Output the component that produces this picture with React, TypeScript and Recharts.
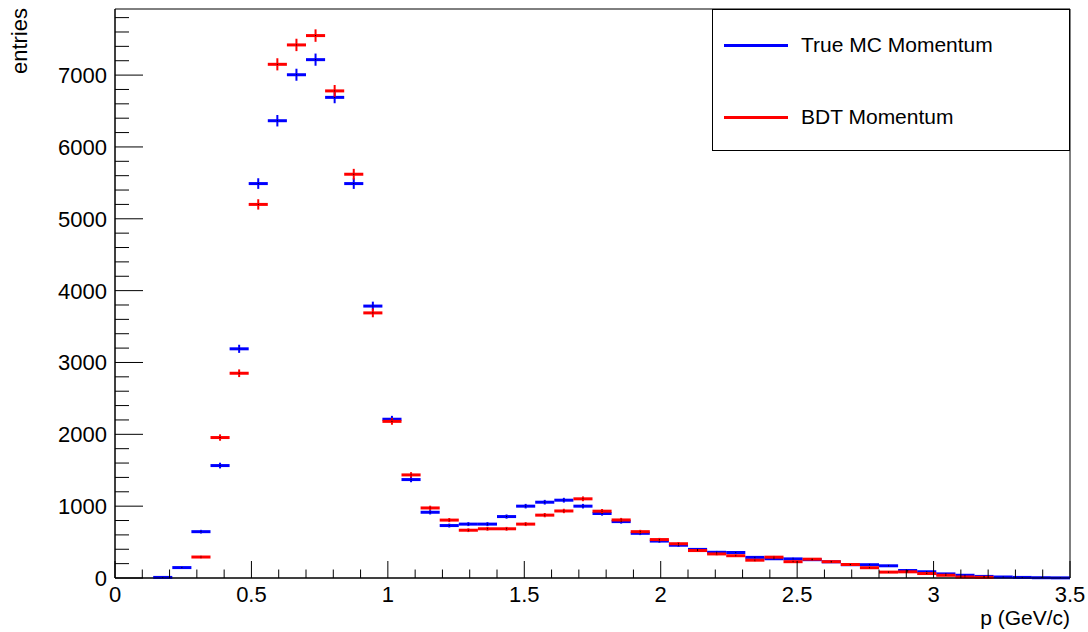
import React from 'react';
import { ScatterChart, Scatter, XAxis, YAxis, ErrorBar, ReferenceArea, Legend, Label } from 'recharts';

// Bin centres (GeV/c), bin width 0.07
const binCenters = [
  0.175, 0.245, 0.315, 0.385, 0.455, 0.525, 0.595, 0.665, 0.735, 0.805,
  0.875, 0.945, 1.015, 1.085, 1.155, 1.225, 1.295, 1.365, 1.435, 1.505,
  1.575, 1.645, 1.715, 1.785, 1.855, 1.925, 1.995, 2.065, 2.135, 2.205,
  2.275, 2.345, 2.415, 2.485, 2.555, 2.625, 2.695, 2.765, 2.835, 2.905,
  2.975, 3.045, 3.115, 3.185, 3.255, 3.325, 3.395, 3.465,
];
const binHalfWidth = 0.035;

const trueMC: (number | null)[] = [
  8, 145, 645, 1565, 3190, 5490, 6365, 7005, 7215, 6690,
  5490, 3785, 2210, 1370, 915, 730, 750, 750, 855, 1000,
  1055, 1083, 1000, 898, 785, 622, 514, 456, 398, 358,
  355, 287, 268, 266, 255, 225, 185, 185, 170, 104,
  87, 57, 38, 22, 14, 8, 4, 2,
];
const bdt: (number | null)[] = [
  null, null, 292, 1955, 2850, 5200, 7150, 7420, 7550, 6780,
  5620, 3690, 2180, 1435, 975, 806, 665, 685, 685, 750,
  875, 933, 1102, 930, 808, 645, 535, 477, 382, 335,
  310, 248, 290, 227, 262, 227, 188, 143, 82, 86,
  62, 38, 14, 9, null, null, null, null,
];

const seriesNames = ['True MC Momentum', 'BDT Momentum'];
const seriesColors = ['#0000ff', '#ff0000'];

const xTicks = [
  0, 0.1, 0.2, 0.3, 0.4, 0.5, 0.6, 0.7, 0.8, 0.9, 1, 1.1, 1.2, 1.3, 1.4, 1.5,
  1.6, 1.7, 1.8, 1.9, 2, 2.1, 2.2, 2.3, 2.4, 2.5, 2.6, 2.7, 2.8, 2.9, 3, 3.1,
  3.2, 3.3, 3.4, 3.5,
];
const xLabelTicks = [0, 0.5, 1, 1.5, 2, 2.5, 3, 3.5];
const yTicks = [
  0, 200, 400, 600, 800, 1000, 1200, 1400, 1600, 1800, 2000, 2200, 2400, 2600,
  2800, 3000, 3200, 3400, 3600, 3800, 4000, 4200, 4400, 4600, 4800, 5000, 5200,
  5400, 5600, 5800, 6000, 6200, 6400, 6600, 6800, 7000, 7200, 7400, 7600, 7800,
];
const yLabelTicks = [0, 1000, 2000, 3000, 4000, 5000, 6000, 7000];
const yMax = 7920;
const xMax = 3.5;

const FONT = '"Liberation Sans", Arial, Helvetica, sans-serif';

function toPoints(values: (number | null)[]) {
  const pts: { x: number; y: number; ex: number; ey: number }[] = [];
  values.forEach((v, i) => {
    if (v == null) return;
    pts.push({ x: binCenters[i], y: v, ex: binHalfWidth, ey: Math.sqrt(v) });
  });
  return pts;
}

const trueData = toPoints(trueMC);
const bdtData = toPoints(bdt);

const isMajor = (v: number, majors: number[]) => majors.some((m) => Math.abs(m - v) < 1e-6);

const XTick = (props: any) => {
  const { x, y, payload } = props;
  const v = payload.value as number;
  const major = isMajor(v, xLabelTicks);
  return (
    <g>
      <line x1={x} x2={x} y1={y} y2={y - (major ? 17 : 8.5)} stroke="#000" strokeWidth={1} />
      {major && (
        <text x={x} y={y + 24} textAnchor="middle" fontSize={22} fontFamily={FONT} fill="#000">
          {String(v)}
        </text>
      )}
    </g>
  );
};

const YTick = (props: any) => {
  const { x, y, payload } = props;
  const v = payload.value as number;
  const major = isMajor(v, yLabelTicks);
  return (
    <g>
      <line x1={x} x2={x + (major ? 28 : 14)} y1={y} y2={y} stroke="#000" strokeWidth={1} />
      {major && (
        <text x={x - 8} y={y + 8} textAnchor="end" fontSize={22} fontFamily={FONT} fill="#000">
          {String(v)}
        </text>
      )}
    </g>
  );
};

const XTitle = (props: any) => {
  const vb = props.viewBox || { x: 115, y: 578, width: 955, height: 54 };
  return (
    <text x={vb.x + vb.width} y={vb.y + 47} textAnchor="end" fontSize={21} fontFamily={FONT} fill="#000">
      p (GeV/c)
    </text>
  );
};

const YTitle = (props: any) => {
  const vb = props.viewBox || { x: 0, y: 9, width: 115, height: 569 };
  const tx = vb.x + 27;
  const ty = vb.y - 1;
  return (
    <text
      x={tx}
      y={ty}
      textAnchor="end"
      fontSize={22}
      fontFamily={FONT}
      fill="#000"
      transform={`rotate(-90, ${tx}, ${ty})`}
    >
      entries
    </text>
  );
};

const LegendBox = (props: any) => {
  const payload = ((props.payload || []) as any[]).slice().sort(
    (a: any, b: any) => seriesNames.indexOf(a.value) - seriesNames.indexOf(b.value)
  );
  return (
    <div
      style={{
        width: 358,
        height: 142,
        border: '1px solid #000',
        boxSizing: 'border-box',
        background: '#fff',
        position: 'relative',
        fontFamily: FONT,
        fontSize: 21,
        color: '#000',
      }}
    >
      {payload.map((e: any, i: number) => {
        const idx = seriesNames.indexOf(e.value);
        const color = idx >= 0 ? seriesColors[idx] : e.color;
        const cy = 35 + i * 72;
        return (
          <div key={i}>
            <div
              style={{
                position: 'absolute',
                left: 11,
                top: cy - 1.5,
                width: 64,
                height: 3,
                background: color,
              }}
            />
            <div
              style={{
                position: 'absolute',
                left: 88,
                top: cy - 13,
                height: 26,
                lineHeight: '26px',
                whiteSpace: 'nowrap',
              }}
            >
              {e.value}
            </div>
          </div>
        );
      })}
    </div>
  );
};

const dotShape = (p: any) => <rect x={p.cx - 0.5} y={p.cy - 0.5} width={1} height={1} fill="#000" />;

export default function App() {
  return (
    <div style={{ width: 1088, height: 632, background: '#fff' }}>
      <style>{`body{margin:0;background:#fff;}`}</style>
      <ScatterChart width={1088} height={632} margin={{ top: 9, right: 18, bottom: 0, left: 0 }}>
        <XAxis
          dataKey="x"
          type="number"
          domain={[0, xMax]}
          ticks={xTicks}
          interval={0}
          tick={<XTick />}
          tickSize={0}
          tickMargin={0}
          tickLine={false}
          height={54}
          allowDataOverflow
          axisLine={{ stroke: '#000', strokeWidth: 1 }}
        >
          <Label content={<XTitle />} />
        </XAxis>
        <YAxis
          dataKey="y"
          type="number"
          domain={[0, yMax]}
          ticks={yTicks}
          interval={0}
          tick={<YTick />}
          tickSize={0}
          tickMargin={0}
          tickLine={false}
          width={115}
          allowDataOverflow
          axisLine={{ stroke: '#000', strokeWidth: 1 }}
        >
          <Label content={<YTitle />} />
        </YAxis>
        <ReferenceArea x1={0} x2={xMax} y1={0} y2={yMax} fill="none" stroke="#000" strokeWidth={1} ifOverflow="visible" />
        <Scatter
          name={seriesNames[0]}
          data={trueData}
          fill={seriesColors[0]}
          shape={dotShape}
          legendType="line"
          isAnimationActive={false}
        >
          <ErrorBar dataKey="ex" direction="x" width={0} stroke={seriesColors[0]} strokeWidth={3} isAnimationActive={false} />
          <ErrorBar dataKey="ey" direction="y" width={0} stroke={seriesColors[0]} strokeWidth={2} isAnimationActive={false} />
        </Scatter>
        <Scatter
          name={seriesNames[1]}
          data={bdtData}
          fill={seriesColors[1]}
          shape={dotShape}
          legendType="line"
          isAnimationActive={false}
        >
          <ErrorBar dataKey="ex" direction="x" width={0} stroke={seriesColors[1]} strokeWidth={3} isAnimationActive={false} />
          <ErrorBar dataKey="ey" direction="y" width={0} stroke={seriesColors[1]} strokeWidth={2} isAnimationActive={false} />
        </Scatter>
        <Legend
          layout="vertical"
          align="center"
          verticalAlign="middle"
          content={<LegendBox />}
          wrapperStyle={{ left: 712, top: 9, width: 358, height: 142 }}
        />
      </ScatterChart>
    </div>
  );
}
